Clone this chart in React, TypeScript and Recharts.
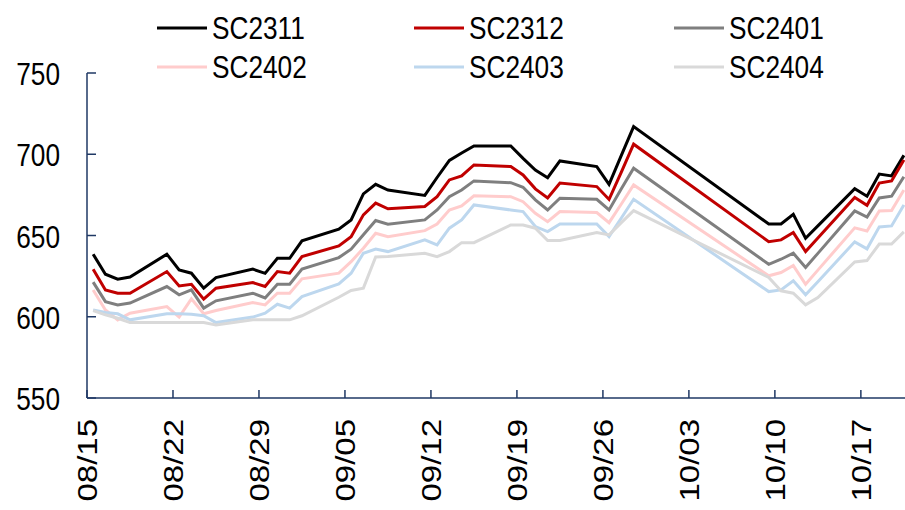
import React from 'react';
import { LineChart, Line, XAxis, YAxis } from 'recharts';

// trading days (2023), the Oct 1st holiday week has no quotes
const dates = [
  '08/15', '08/16', '08/17', '08/18',
  '08/21', '08/22', '08/23', '08/24', '08/25',
  '08/28', '08/29', '08/30', '08/31', '09/01',
  '09/04', '09/05', '09/06', '09/07', '09/08',
  '09/11', '09/12', '09/13', '09/14', '09/15',
  '09/18', '09/19', '09/20', '09/21', '09/22',
  '09/25', '09/26', '09/27', '09/28',
  '10/09', '10/10', '10/11', '10/12', '10/13',
  '10/16', '10/17', '10/18', '10/19', '10/20',
];

const sc2311 = [
  638.5, 626.2, 623.1, 624.4,
  638.5, 628.8, 626.8, 617.6, 624.1,
  629.3, 626.7, 636, 636, 646.7,
  653.9, 659.6, 675.6, 681.5, 678,
  674.7, 685.7, 696.2, 700.8, 705.1,
  705.1, 697.5, 690.3, 685.6, 695.9,
  692.4, 681.5, 699.3, 717,
  657.1, 657.1, 663.1, 648.3, 655.9,
  678.8, 674.2, 687.8, 686.7, 699.3,
];
const sc2312 = [
  629.3, 616.5, 614.5, 614.5,
  627.8, 619, 620, 610.8, 617.6,
  621, 618.6, 627.8, 626.8, 637,
  643.6, 649.3, 662.7, 669.9, 666.4,
  667.9, 673.9, 684.2, 686.7, 693.4,
  692.4, 687.3, 678.7, 673.1, 682.3,
  680.1, 672.2, 689, 706.2,
  646.2, 647.3, 651.8, 640.1, 648.5,
  673.4, 668.6, 682.3, 683.6, 696.5,
];
const sc2401 = [
  621.3, 609.3, 607.3, 608.4,
  618.6, 613.5, 616.5, 605.3, 609.8,
  614.5, 611.6, 620, 620, 629.3,
  636.4, 641.6, 650.4, 659.2, 657,
  659.6, 665.7, 673.9, 678, 683.6,
  682.5, 679.7, 671.9, 665.7, 672.9,
  672.3, 665.7, 678.7, 691.4,
  632.3, 635.4, 639.1, 630.3, 639,
  665.1, 661.4, 673.1, 674.2, 686.2,
];
const sc2402 = [
  616.5, 604.2, 598.1, 602.2,
  606.3, 599.8, 611, 601.8, 603.8,
  608.7, 607.3, 614.5, 614.5, 623.3,
  626.8, 633.9, 642.2, 651.4, 649.3,
  653, 657.1, 665.7, 668.2, 674.4,
  673.9, 670.8, 663.7, 658.5, 664.7,
  664.1, 657.9, 669.4, 681.1,
  625.2, 627.2, 631.5, 620, 628.7,
  654.7, 652.8, 665.1, 665.4, 678,
];
const sc2403 = [
  604.2, 602.6, 601.8, 598.1,
  601.8, 601.8, 601.6, 600.6, 596.4,
  599.8, 602.2, 607.7, 605.3, 612.4,
  620.2, 626.8, 639.1, 641.6, 640.1,
  647.3, 644.2, 654.5, 659.6, 668.8,
  665.7, 664.7, 655.5, 652.4, 657.1,
  657.1, 649.3, 660.8, 672.3,
  615.5, 616.5, 622.1, 613.5, 621.6,
  646.1, 641.8, 655.3, 655.9, 668.8,
];
const sc2404 = [
  603.8, 601.2, 599.1, 596.4,
  596.4, 596.4, 596.4, 596.4, 595,
  598.1, 598.1, 598.1, 598.1, 600.6,
  612, 616.2, 617.6, 636.8, 637.1,
  639.1, 637, 640.1, 645.6, 645.6,
  656.5, 656.5, 654.5, 646.9, 646.9,
  651.8, 650.4, 657.9, 665.3,
  624.2, 616, 614.5, 607.3, 611.8,
  633.7, 634.6, 644.7, 644.8, 652.2,
];

const xTickLabels = ['08/15', '08/22', '08/29', '09/05', '09/12', '09/19', '09/26', '10/03', '10/10', '10/17'];
const yTicks = [550, 600, 650, 700, 750];

const series = [
  { key: 'SC2311', values: sc2311, color: '#000000' },
  { key: 'SC2312', values: sc2312, color: '#C00000' },
  { key: 'SC2401', values: sc2401, color: '#7F7F7F' },
  { key: 'SC2402', values: sc2402, color: '#FFCCCC' },
  { key: 'SC2403', values: sc2403, color: '#BDD7EE' },
  { key: 'SC2404', values: sc2404, color: '#D9D9D9' },
];

const YEAR = 2023;
const START = Date.UTC(YEAR, 7, 15);
const dayOf = (md: string) => {
  const [m, d] = md.split('/').map(Number);
  return Math.round((Date.UTC(YEAR, m - 1, d) - START) / 86400000);
};

// date axis: each day gets a slot, points sit in the middle of it
const data = dates.map((md, i) => {
  const row: Record<string, number> = { x: dayOf(md) + 0.5 };
  series.forEach((s) => (row[s.key] = s.values[i]));
  return row;
});
const xTicks = xTickLabels.map(dayOf);

const AXIS = '#1F3864';
const FONT = '"Liberation Sans", Arial, sans-serif';
const SQUEEZE = 0.82;

function YTick(props: any) {
  const { x, y, payload } = props;
  return (
    <g>
      <line x1={x} y1={y} x2={x + 9} y2={y} stroke={AXIS} strokeWidth={1.5} />
      <text
        transform={`translate(${x - 27},${y + 12}) scale(${SQUEEZE},1)`}
        textAnchor="end"
        fontFamily={FONT}
        fontSize={32}
        fill="#000"
      >
        {payload.value}
      </text>
    </g>
  );
}

function XTick(props: any) {
  const { x, y, payload } = props;
  const label = xTickLabels[xTicks.indexOf(payload.value)];
  return (
    <g>
      <line x1={x} y1={y} x2={x} y2={y - 8} stroke={AXIS} strokeWidth={1.5} />
      <text
        transform={`translate(${x + 10},${y + 21}) scale(${SQUEEZE},1) rotate(-90)`}
        textAnchor="end"
        fontFamily={FONT}
        fontSize={33}
        fill="#000"
      >
        {label}
      </text>
    </g>
  );
}

function LegendBox() {
  const cols = [157, 414, 674];
  const rows = [28, 67];
  return (
    <svg width={905} height={90} style={{ position: 'absolute', left: 0, top: 0 }}>
      {series.map((s, i) => {
        const lx = cols[i % 3];
        const ly = rows[Math.floor(i / 3)];
        return (
          <g key={s.key}>
            <line x1={lx} y1={ly} x2={lx + 50} y2={ly} stroke={s.color} strokeWidth={3} />
            <text
              transform={`translate(${lx + 55},${ly + 11}) scale(${SQUEEZE},1)`}
              fontFamily={FONT}
              fontSize={32}
              fill="#000"
            >
              {s.key}
            </text>
          </g>
        );
      })}
    </svg>
  );
}

export default function App() {
  return (
    <div style={{ position: 'relative', width: 905, height: 510, overflow: 'hidden', background: '#fff' }}>
      <style>{'body{margin:0}'}</style>
      <LineChart width={915} height={510} data={data} margin={{ top: 73, right: 5, bottom: 0, left: 0 }}>
        <XAxis
          type="number"
          dataKey="x"
          domain={[0, 67]}
          ticks={xTicks}
          interval={0}
          allowDataOverflow
          height={112}
          tickSize={0}
          tickMargin={0}
          tickLine={false}
          axisLine={{ stroke: AXIS, strokeWidth: 1.5 }}
          tick={<XTick />}
        />
        <YAxis
          type="number"
          domain={[550, 750]}
          ticks={yTicks}
          interval={0}
          width={87}
          tickSize={0}
          tickMargin={0}
          tickLine={false}
          axisLine={{ stroke: AXIS, strokeWidth: 1.5 }}
          tick={<YTick />}
        />
        {series.map((s) => (
          <Line
            key={s.key}
            type="linear"
            dataKey={s.key}
            stroke={s.color}
            strokeWidth={3}
            dot={false}
            activeDot={false}
            isAnimationActive={false}
          />
        ))}
      </LineChart>
      <LegendBox />
    </div>
  );
}
